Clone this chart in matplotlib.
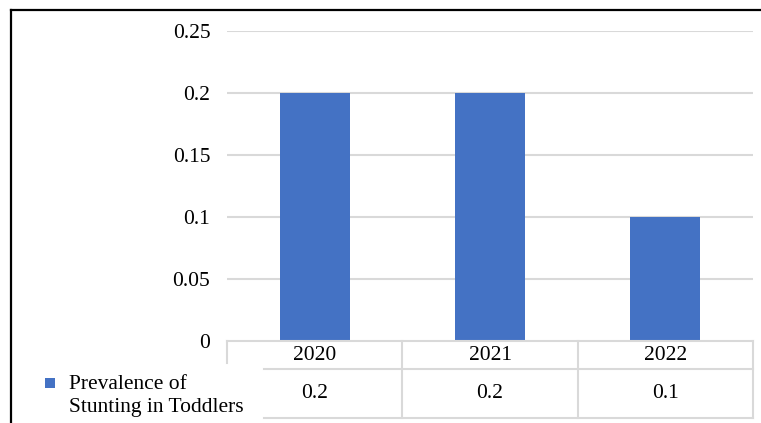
import matplotlib
matplotlib.use("Agg")
import matplotlib.pyplot as plt
from matplotlib.lines import Line2D
from matplotlib.patches import Rectangle
import matplotlib.transforms as mtrans

categories = ["2020", "2021", "2022"]
values = [0.2, 0.2, 0.1]
series_name = "Prevalence of\nStunting in Toddlers"
yticks = [0, 0.05, 0.1, 0.15, 0.2, 0.25]
ytick_labels = ["0", "0.05", "0.1", "0.15", "0.2", "0.25"]

W, H = 761, 423
DPI = 100
BLUE = "#4472C4"
GRID = "#D9D9D9"
FONT = "Liberation Serif"
FS = 15.5

fig = plt.figure(figsize=(W / DPI, H / DPI), dpi=DPI)

def fx(x):
    return x / W

def fy(y):
    return 1 - y / H

ax_l, ax_r, ax_t, ax_b = 227, 753, 31, 341
ax = fig.add_axes([fx(ax_l), fy(ax_b), (ax_r - ax_l) / W, (ax_b - ax_t) / H])
x = list(range(len(categories)))
ax.bar(x, values, width=0.4, color=BLUE, zorder=3)
ax.set_xlim(-0.5, len(categories) - 0.5)
ax.set_ylim(0, 0.25)
ax.set_yticks(yticks)
ax.set_yticklabels(ytick_labels, fontfamily=FONT, fontsize=FS)
ax.tick_params(axis="y", length=0, pad=12)
ax.set_xticks([])
for s in ax.spines.values():
    s.set_visible(False)
for t in yticks[1:]:
    ax.axhline(t, color=GRID, lw=1.5, zorder=1)

# data table
blend = mtrans.blended_transform_factory(ax.transData, fig.transFigure)
row1_top, row1_bot, row2_bot = 341, 369, 418
lc = GRID
lw = 1.5
fig.add_artist(Line2D([-0.5, len(categories) - 0.5], [fy(row1_top)] * 2, transform=blend, color=lc, lw=lw))
fig.add_artist(Line2D([fx(264), fx(ax_r)], [fy(row1_bot)] * 2, transform=fig.transFigure, color=lc, lw=lw))
fig.add_artist(Line2D([fx(264), fx(ax_r)], [fy(row2_bot)] * 2, transform=fig.transFigure, color=lc, lw=lw))
fig.add_artist(Line2D([-0.5, -0.5], [fy(row1_top), fy(363)], transform=blend, color=lc, lw=lw))
for i in range(len(categories)):
    xb = i + 0.5
    fig.add_artist(Line2D([xb, xb], [fy(row1_top), fy(row2_bot)], transform=blend, color=lc, lw=lw))
for i, (c, v) in enumerate(zip(categories, values)):
    fig.text(i, fy(355), c, transform=blend, ha="center", va="center",
             fontfamily=FONT, fontsize=FS)
    fig.text(i, fy(393), f"{v:g}", transform=blend, ha="center", va="center",
             fontfamily=FONT, fontsize=FS)

# legend key
fig.add_artist(Rectangle((fx(45), fy(388)), 10 / W, 10 / H, transform=fig.transFigure,
                         facecolor=BLUE, edgecolor="none"))
fig.text(fx(69), fy(396), series_name, ha="left", va="center", fontfamily=FONT,
         fontsize=FS, linespacing=1.3)

# chart frame (top and left)
fig.add_artist(Line2D([fx(11), fx(W)], [fy(10.5), fy(10.5)], transform=fig.transFigure, color="black", lw=1.6))
fig.add_artist(Line2D([fx(11), fx(11)], [fy(10.5), fy(H)], transform=fig.transFigure, color="black", lw=1.6))

fig.savefig("out.png", dpi=DPI)
